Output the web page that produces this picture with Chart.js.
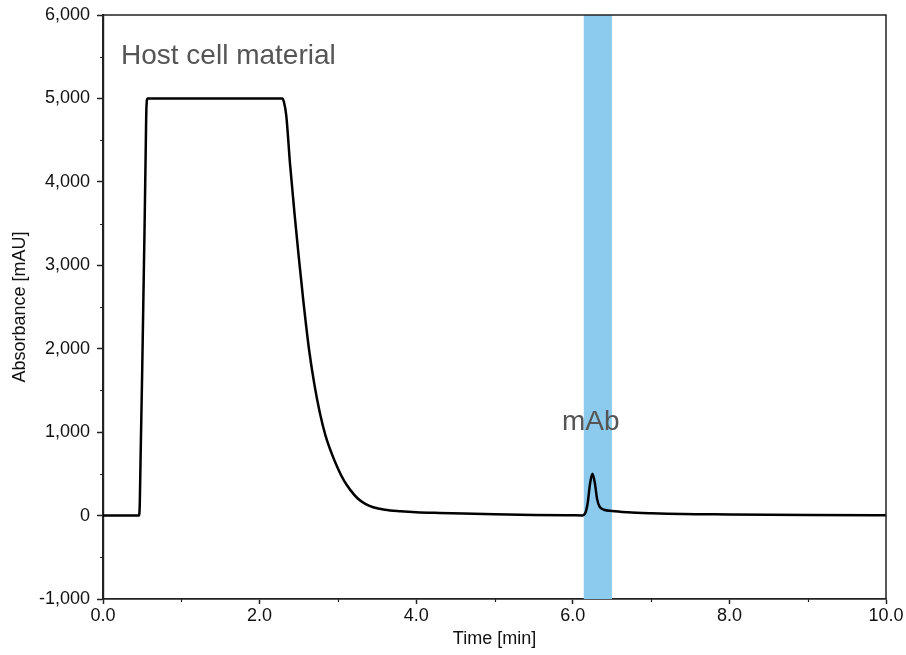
<!DOCTYPE html>
<html>
<head>
<meta charset="utf-8">
<script src="https://cdn.jsdelivr.net/npm/chart.js@4/dist/chart.umd.min.js"></script>
<style>
  html, body { margin: 0; padding: 0; background: #fff; }
  #wrap { width: 906px; height: 655px; }
</style>
</head>
<body>
<div id="wrap"><canvas id="c" width="906" height="655"></canvas></div>
<script>
// ---- data ----
const timeMin = [0, 0.30, 0.46, 0.47, 0.48, 0.50, 0.515, 0.53, 0.545, 0.555, 0.57,
  1.20, 2.29, 2.31, 2.34, 2.39, 2.45, 2.50, 2.56, 2.63, 2.70, 2.77, 2.84, 2.92, 3.00, 3.08,
  3.16, 3.25, 3.35, 3.45, 3.60, 3.80, 4.00, 4.30, 4.60, 5.00, 5.50, 6.00, 6.12,
  6.16, 6.19, 6.22, 6.25, 6.28, 6.31, 6.34, 6.40, 6.50, 6.70, 7.00, 7.40, 8.00, 9.00, 10.00];
const absorbance = [0, 0, 0, 150, 700, 1700, 2560, 3400, 4350, 4900, 5000,
  5000, 5000, 4960, 4800, 4200, 3580, 3100, 2560, 2000, 1570, 1230, 965, 745, 565, 415,
  305, 208, 140, 100, 70, 52, 40, 31, 24, 16, 8, 3, 2,
  30, 150, 380, 500, 400, 200, 110, 70, 55, 40, 28, 18, 14, 8, 3];

const xMajorTicks = [0, 2, 4, 6, 8, 10];
const xMinorTicks = [1, 3, 5, 7, 9];
const yMinorTicks = [-500, 500, 1500, 2500, 3500, 4500, 5500];
const xRange = [0, 10];
const yRange = [-1000, 6000];

const fractionBand = [6.14, 6.50];          // collected mAb fraction (min)
const annotationTexts = ["Host cell material", "mAb"];
const annotationX = [0.23, 6.23];            // min
const annotationY = [5410, 1026];            // mAU (text baseline)
const annotationAlign = ["left", "center"];

const axisFont = { family: "'Liberation Sans', Arial, Helvetica, sans-serif", size: 18 };
const ink = '#222';

const fractionPlugin = {
  id: 'fraction',
  beforeDatasetsDraw(chart) {
    const { ctx, chartArea, scales } = chart;
    const x0 = scales.x.getPixelForValue(fractionBand[0]);
    const x1 = scales.x.getPixelForValue(fractionBand[1]);
    ctx.save();
    ctx.fillStyle = '#8dcbee';
    ctx.fillRect(x0, chartArea.top, x1 - x0, chartArea.bottom - chartArea.top);
    ctx.restore();
  },
  afterDatasetsDraw(chart) {
    const { ctx, scales } = chart;
    ctx.save();
    ctx.fillStyle = '#555';
    ctx.font = "28px 'Liberation Sans', Arial, Helvetica, sans-serif";
    ctx.textBaseline = 'alphabetic';
    annotationTexts.forEach((t, i) => {
      ctx.textAlign = annotationAlign[i];
      ctx.fillText(t, scales.x.getPixelForValue(annotationX[i]), scales.y.getPixelForValue(annotationY[i]));
    });
    ctx.restore();
  },
  afterDraw(chart) {
    const { ctx, chartArea, scales } = chart;
    ctx.save();
    ctx.strokeStyle = ink;
    ctx.lineWidth = 1.5;
    // top and right frame
    ctx.beginPath();
    ctx.moveTo(chartArea.left, chartArea.top);
    ctx.lineTo(chartArea.right, chartArea.top);
    ctx.lineTo(chartArea.right, chartArea.bottom);
    ctx.stroke();
    // minor ticks
    ctx.lineWidth = 1.2;
    ctx.beginPath();
    yMinorTicks.forEach(v => {
      const y = Math.round(scales.y.getPixelForValue(v)) + 0.5;
      ctx.moveTo(chartArea.left - 3, y);
      ctx.lineTo(chartArea.left, y);
    });
    xMinorTicks.forEach(v => {
      const x = Math.round(scales.x.getPixelForValue(v)) + 0.5;
      ctx.moveTo(x, chartArea.bottom);
      ctx.lineTo(x, chartArea.bottom + 3);
    });
    ctx.stroke();
    ctx.restore();
  }
};

new Chart(document.getElementById('c'), {
  type: 'line',
  data: {
    datasets: [{
      data: timeMin.map((t, i) => ({ x: t, y: absorbance[i] })),
      borderColor: '#000',
      borderWidth: 2.5,
      pointRadius: 0,
      cubicInterpolationMode: 'monotone',
      fill: false
    }]
  },
  options: {
    responsive: false,
    devicePixelRatio: 1,
    animation: false,
    layout: { padding: { top: 15, right: 20, left: 0, bottom: 0 } },
    plugins: { legend: { display: false }, tooltip: { enabled: false } },
    scales: {
      x: {
        type: 'linear',
        min: xRange[0], max: xRange[1],
        afterBuildTicks(scale) { scale.ticks = xMajorTicks.map(v => ({ value: v })); },
        afterFit(scale) { scale.height = 56; },
        ticks: {
          color: '#111', font: axisFont, padding: 1, maxRotation: 0,
          callback: v => Number(v).toFixed(1)
        },
        grid: { drawOnChartArea: false, drawTicks: true, tickLength: 5, tickColor: ink, tickWidth: 1.5 },
        border: { display: true, color: ink, width: 1.8 },
        title: { display: true, text: 'Time [min]', color: '#111', font: axisFont, padding: { top: 0, bottom: 5 } }
      },
      y: {
        type: 'linear',
        min: yRange[0], max: yRange[1],
        ticks: {
          stepSize: 1000, color: '#111', font: axisFont, padding: 7,
          callback: v => Number(v).toLocaleString('en-US')
        },
        afterFit(scale) { scale.width = 103; scale.paddingTop = 0; scale.paddingBottom = 0; },
        grid: { drawOnChartArea: false, drawTicks: true, tickLength: 6, tickColor: ink, tickWidth: 1.5 },
        border: { display: true, color: ink, width: 2.2 },
        title: { display: true, text: 'Absorbance [mAU]', color: '#111', font: axisFont, padding: { top: 9, bottom: 0 } }
      }
    }
  },
  plugins: [fractionPlugin]
});
</script>
</body>
</html>
